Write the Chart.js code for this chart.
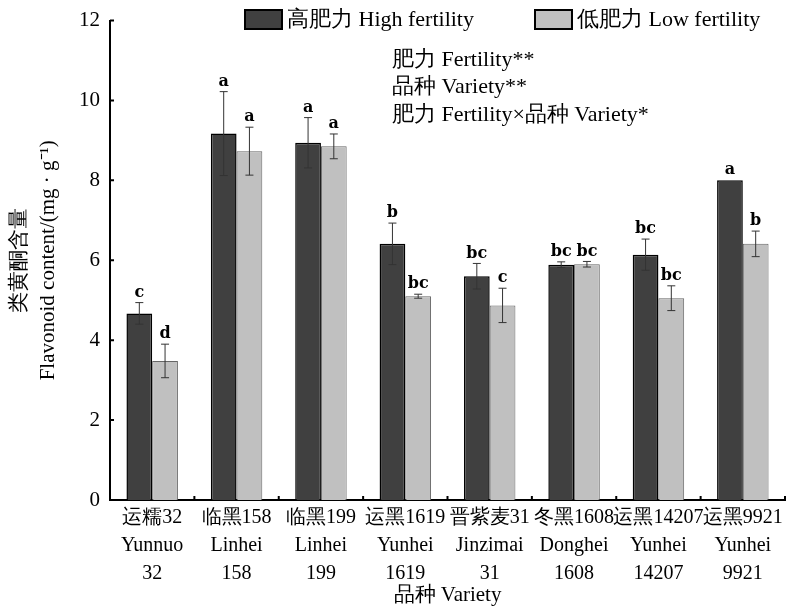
<!DOCTYPE html>
<html>
<head>
<meta charset="utf-8">
<script src="https://cdn.jsdelivr.net/npm/chart.js@4.4.0/dist/chart.umd.min.js"></script>
<style>
  html, body { margin: 0; padding: 0; background: #fff; }
</style>
</head>
<body>
<canvas id="myChart" width="801" height="606"></canvas>
<script>
/// Data

const categories = [
  ["运糯32", "Yunnuo", "32"],
  ["临黑158", "Linhei", "158"],
  ["临黑199", "Linhei", "199"],
  ["运黑1619", "Yunhei", "1619"],
  ["晋紫麦31", "Jinzimai", "31"],
  ["冬黑1608", "Donghei", "1608"],
  ["运黑14207", "Yunhei", "14207"],
  ["运黑9921", "Yunhei", "9921"],
];

const highValues = [4.67, 9.17, 8.94, 6.41, 5.6, 5.89, 6.14, 8.0];
const highErrors = [0.27, 1.05, 0.63, 0.52, 0.32, 0.07, 0.39, 0];
const highLetters = ["c", "a", "a", "b", "bc", "bc", "bc", "a"];

const lowValues = [3.48, 8.73, 8.85, 5.1, 4.87, 5.9, 5.05, 6.41];
const lowErrors = [0.42, 0.6, 0.31, 0.05, 0.43, 0.07, 0.31, 0.32];
const lowLetters = ["d", "a", "a", "bc", "c", "bc", "bc", "b"];

const yMin = 0;
const yMax = 12;
const yStep = 2;

const seriesNames = ["高肥力 High fertility", "低肥力 Low fertility"];
const noteLines = [
  "肥力 Fertility**",
  "品种 Variety**",
  "肥力 Fertility×品种 Variety*",
];
const yTitle = ["类黄酮含量", "Flavonoid content/(mg · g⁻¹)"];
const xTitle = "品种 Variety";

const serif = "'Liberation Serif', 'Times New Roman', serif";
const century = "'DejaVu Serif', serif";

// error bars + letters above them
const errorBars = {
  id: "errorBars",
  afterDatasetsDraw(chart) {
    const ctx = chart.ctx;
    const yScale = chart.scales.y;
    ctx.save();
    chart.data.datasets.forEach((ds, di) => {
      const meta = chart.getDatasetMeta(di);
      meta.data.forEach((bar, i) => {
        const v = ds.data[i];
        const e = ds.errors[i];
        const top = yScale.getPixelForValue(v + e);
        const bot = yScale.getPixelForValue(v - e);
        if (e > 0) {
          ctx.strokeStyle = "#333";
          ctx.lineWidth = 1;
          ctx.beginPath();
          ctx.moveTo(bar.x, top);
          ctx.lineTo(bar.x, bot);
          ctx.moveTo(bar.x - 4, top);
          ctx.lineTo(bar.x + 4, top);
          ctx.moveTo(bar.x - 4, bot);
          ctx.lineTo(bar.x + 4, bot);
          ctx.stroke();
        }
        ctx.fillStyle = "#000";
        ctx.font = "bold 16px " + century;
        ctx.textAlign = "center";
        ctx.textBaseline = "bottom";
        ctx.fillText(ds.letters[i], bar.x, top - 2);
      });
    });
    ctx.restore();
  },
};

// inward tick marks, legend and the anova notes
const decorations = {
  id: "decorations",
  afterDraw(chart) {
    const ctx = chart.ctx;
    const area = chart.chartArea;
    const xs = chart.scales.x;
    const ys = chart.scales.y;
    ctx.save();
    ctx.strokeStyle = "#000";
    ctx.lineWidth = 2;
    ctx.beginPath();
    ys.ticks.forEach((t) => {
      const py = ys.getPixelForValue(t.value);
      ctx.moveTo(area.left, py);
      ctx.lineTo(area.left + 4, py);
    });
    const step = xs.getPixelForValue(1) - xs.getPixelForValue(0);
    for (let i = 1; i <= categories.length; i++) {
      const px = xs.getPixelForValue(i) - step / 2;
      ctx.moveTo(px, area.bottom);
      ctx.lineTo(px, area.bottom - 4);
    }
    ctx.stroke();

    // legend
    const legendX = [245, 535];
    chart.data.datasets.forEach((ds, i) => {
      const bx = legendX[i];
      ctx.fillStyle = ds.backgroundColor;
      ctx.fillRect(bx, 10, 37, 19);
      ctx.strokeStyle = "#000";
      ctx.lineWidth = 2;
      ctx.strokeRect(bx, 10, 37, 19);
      ctx.fillStyle = "#000";
      ctx.font = "22px " + serif;
      ctx.textAlign = "left";
      ctx.textBaseline = "middle";
      ctx.fillText(ds.label, bx + 42, 20);
    });

    // notes
    ctx.font = "22px " + serif;
    ctx.textAlign = "left";
    ctx.textBaseline = "middle";
    noteLines.forEach((line, i) => {
      ctx.fillText(line, 392, 60 + i * 27.5);
    });
    ctx.restore();
  },
};

const data = {
  labels: categories,
  datasets: [
    {
      label: seriesNames[0],
      data: highValues,
      errors: highErrors,
      letters: highLetters,
      backgroundColor: "#404040",
      borderColor: "#000",
      borderWidth: 1.5,
      categoryPercentage: 0.61,
      barPercentage: 1.0,
    },
    {
      label: seriesNames[1],
      data: lowValues,
      errors: lowErrors,
      letters: lowLetters,
      backgroundColor: "#c0c0c0",
      borderColor: "#666",
      borderWidth: 1,
      categoryPercentage: 0.61,
      barPercentage: 1.0,
    },
  ],
};

const config = {
  type: "bar",
  data: data,
  plugins: [errorBars, decorations],
  options: {
    responsive: false,
    animation: false,
    devicePixelRatio: 1,
    layout: { padding: { top: 16, right: 16, bottom: 0, left: 0 } },
    plugins: {
      legend: { display: false },
      tooltip: { enabled: false },
    },
    scales: {
      x: {
        grid: { display: false, drawTicks: false },
        border: { display: true, color: "#000", width: 2 },
        ticks: {
          color: "#000",
          padding: 4,
          maxRotation: 0,
          autoSkip: false,
          font: { family: serif, size: 20, lineHeight: 1.4 },
        },
        title: {
          display: true,
          text: xTitle,
          color: "#000",
          padding: { top: 0, bottom: 0 },
          font: { family: serif, size: 21, lineHeight: 1.0 },
        },
        afterFit: (scale) => {
          scale.height = 106;
        },
      },
      y: {
        min: yMin,
        max: yMax,
        grid: { display: false, drawTicks: false },
        border: { display: true, color: "#000", width: 2 },
        ticks: {
          stepSize: yStep,
          color: "#000",
          padding: 10,
          font: { family: serif, size: 21, lineHeight: 1.0 },
        },
        title: {
          display: true,
          text: yTitle,
          color: "#000",
          padding: { top: 5, bottom: 0 },
          font: { family: serif, size: 21, lineHeight: 1.38 },
        },
        afterFit: (scale) => {
          scale.width = 110;
        },
      },
    },
  },
};

var myChart = new Chart(document.getElementById("myChart"), config);
</script>
</body>
</html>
